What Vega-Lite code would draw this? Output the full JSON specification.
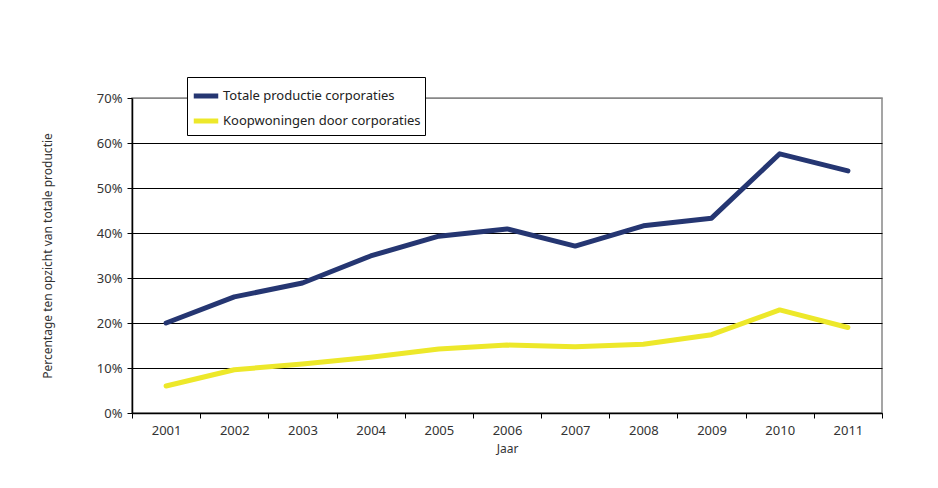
{
  "$schema": "https://vega.github.io/schema/vega-lite/v6.json",
  "width": 750,
  "height": 315,
  "autosize": {"type": "none"},
  "padding": {"left": 132, "top": 98, "right": 56, "bottom": 75},
  "background": "white",
  "config": {
    "font": "Noto Sans",
    "view": {"stroke": "#888", "strokeWidth": 1.5}
  },
  "data": {
    "values": [
      {"jaar": "2001", "serie": "Totale productie corporaties", "waarde": 0.200},
      {"jaar": "2002", "serie": "Totale productie corporaties", "waarde": 0.258},
      {"jaar": "2003", "serie": "Totale productie corporaties", "waarde": 0.289},
      {"jaar": "2004", "serie": "Totale productie corporaties", "waarde": 0.349},
      {"jaar": "2005", "serie": "Totale productie corporaties", "waarde": 0.393},
      {"jaar": "2006", "serie": "Totale productie corporaties", "waarde": 0.409},
      {"jaar": "2007", "serie": "Totale productie corporaties", "waarde": 0.371},
      {"jaar": "2008", "serie": "Totale productie corporaties", "waarde": 0.416},
      {"jaar": "2009", "serie": "Totale productie corporaties", "waarde": 0.433},
      {"jaar": "2010", "serie": "Totale productie corporaties", "waarde": 0.576},
      {"jaar": "2011", "serie": "Totale productie corporaties", "waarde": 0.538},
      {"jaar": "2001", "serie": "Koopwoningen door corporaties", "waarde": 0.060},
      {"jaar": "2002", "serie": "Koopwoningen door corporaties", "waarde": 0.096},
      {"jaar": "2003", "serie": "Koopwoningen door corporaties", "waarde": 0.109},
      {"jaar": "2004", "serie": "Koopwoningen door corporaties", "waarde": 0.124},
      {"jaar": "2005", "serie": "Koopwoningen door corporaties", "waarde": 0.142},
      {"jaar": "2006", "serie": "Koopwoningen door corporaties", "waarde": 0.151},
      {"jaar": "2007", "serie": "Koopwoningen door corporaties", "waarde": 0.147},
      {"jaar": "2008", "serie": "Koopwoningen door corporaties", "waarde": 0.153},
      {"jaar": "2009", "serie": "Koopwoningen door corporaties", "waarde": 0.174},
      {"jaar": "2010", "serie": "Koopwoningen door corporaties", "waarde": 0.229},
      {"jaar": "2011", "serie": "Koopwoningen door corporaties", "waarde": 0.190}
    ]
  },
  "mark": {"type": "line", "strokeWidth": 5, "strokeCap": "round", "strokeJoin": "round"},
  "encoding": {
    "x": {
      "field": "jaar",
      "type": "ordinal",
      "scale": {"type": "band", "paddingInner": 0, "paddingOuter": 0},
      "bandPosition": 0.5,
      "axis": {
        "title": "Jaar",
        "titleFont": "Noto Sans",
        "titleFontSize": 12,
        "titleFontWeight": "normal",
        "titleColor": "#333",
        "titlePadding": 6,
        "labelAngle": 0,
        "labelFontSize": 13,
        "labelColor": "#333",
        "labelPadding": 6,
        "tickBand": "extent",
        "tickColor": "#000",
        "tickSize": 5,
        "domainColor": "#000",
        "domainWidth": 1.5,
        "grid": false
      }
    },
    "y": {
      "field": "waarde",
      "type": "quantitative",
      "scale": {"domain": [0, 0.7], "nice": false},
      "axis": {
        "title": "Percentage ten opzicht van totale productie",
        "titleFont": "Noto Sans",
        "titleFontSize": 12,
        "titleFontWeight": "normal",
        "titleColor": "#333",
        "titlePadding": 42,
        "format": ".0%",
        "values": [0, 0.1, 0.2, 0.3, 0.4, 0.5, 0.6, 0.7],
        "labelFontSize": 13,
        "labelColor": "#333",
        "labelPadding": 5,
        "tickColor": "#000",
        "tickSize": 5,
        "domainColor": "#000",
        "domainWidth": 1.5,
        "grid": true,
        "gridColor": {"condition": {"test": "datum.value >= 0.7", "value": "#888"}, "value": "#000"},
        "gridWidth": 1,
        "gridOpacity": 1
      }
    },
    "color": {
      "field": "serie",
      "type": "nominal",
      "scale": {
        "domain": ["Totale productie corporaties", "Koopwoningen door corporaties"],
        "range": ["#253672", "#ede82a"]
      },
      "legend": {
        "title": null,
        "orient": "none",
        "legendX": 55,
        "legendY": -21,
        "direction": "vertical",
        "symbolType": "stroke",
        "symbolSize": 600,
        "symbolStrokeWidth": 5,
        "labelFontSize": 13,
        "labelColor": "#222",
        "labelLimit": 0,
        "labelOffset": 2,
        "rowPadding": 0,
        "padding": 4,
        "strokeColor": "#000",
        "fillColor": "white"
      }
    }
  }
}
